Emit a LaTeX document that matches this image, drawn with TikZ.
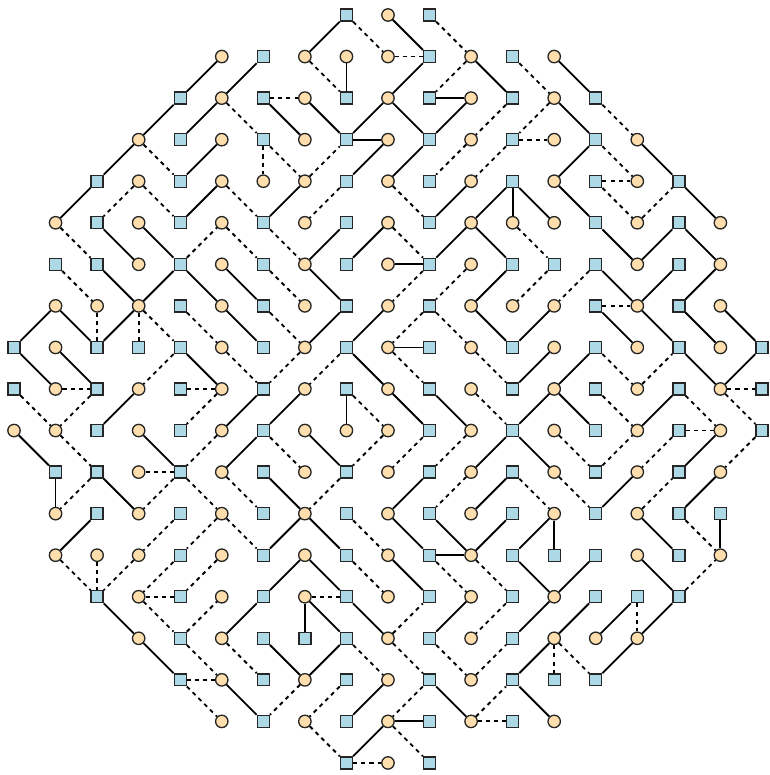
\documentclass[tikz,border=0pt]{standalone}
\definecolor{sqblue}{HTML}{ADD8E6}
\definecolor{cirtan}{HTML}{FFDEAD}

\begin{document}
\begin{tikzpicture}[x=1cm, y=-1cm,
  sqn/.style={rectangle, draw=black!85, line width=0.9pt, fill=sqblue, minimum size=8.2pt, inner sep=0pt},
  cin/.style={circle, draw=black!85, line width=0.9pt, fill=cirtan, minimum size=8.5pt, inner sep=0pt},
  lk/.style={line width=1.25pt},
  dlk/.style={line width=1.25pt, dash pattern=on 2.8pt off 2.8pt}]
  \useasboundingbox (-0.337,-0.361) rectangle (18.17,18.29);
  \foreach \r/\c in {0/8,0/10, 1/6,1/10,1/12, 2/4,2/6,2/8,2/10,2/12,2/14,
    3/4,3/6,3/8,3/10,3/12,3/14, 4/2,4/4,4/8,4/10,4/12,4/14,4/16,
    5/2,5/4,5/6,5/8,5/10,5/14,5/16, 6/1,6/2,6/4,6/6,6/8,6/10,6/12,6/13,6/14,6/16,
    7/4,7/6,7/8,7/10,7/14,7/16, 8/0,8/2,8/3,8/4,8/6,8/8,8/10,8/12,8/14,8/16,8/18,
    9/0,9/2,9/4,9/6,9/8,9/10,9/12,9/14,9/16,9/18, 10/2,10/4,10/6,10/10,10/12,10/14,10/16,10/18,
    11/1,11/2,11/4,11/6,11/8,11/10,11/12,11/14,11/16, 12/2,12/4,12/6,12/8,12/10,12/12,12/14,12/16,12/17,
    13/4,13/6,13/8,13/10,13/12,13/13,13/14,13/16, 14/2,14/4,14/6,14/8,14/10,14/12,14/14,14/15,14/16,
    15/4,15/6,15/7,15/8,15/10,15/12, 16/4,16/6,16/8,16/10,16/12,16/13,16/14,
    17/6,17/8,17/10,17/12, 18/8,18/10}{
    \node[sqn] (n\r-\c) at (\c,\r) {};
  }
  \foreach \r/\c in {0/9, 1/5,1/7,1/8,1/9,1/11,1/13, 2/5,2/7,2/9,2/11,2/13,
    3/3,3/5,3/7,3/9,3/11,3/13,3/15, 4/3,4/5,4/6,4/7,4/9,4/11,4/13,4/15,
    5/1,5/3,5/5,5/7,5/9,5/11,5/12,5/13,5/15,5/17, 6/3,6/5,6/7,6/9,6/11,6/15,6/17,
    7/1,7/2,7/3,7/5,7/7,7/9,7/11,7/12,7/13,7/15,7/17, 8/1,8/5,8/7,8/9,8/11,8/13,8/15,8/17,
    9/1,9/3,9/5,9/7,9/9,9/11,9/13,9/15,9/17, 10/0,10/1,10/3,10/5,10/7,10/8,10/9,10/11,10/13,10/15,10/17,
    11/3,11/5,11/7,11/9,11/11,11/13,11/15,11/17, 12/1,12/3,12/5,12/7,12/9,12/11,12/13,12/15,
    13/1,13/2,13/3,13/5,13/7,13/9,13/11,13/15,13/17, 14/3,14/5,14/7,14/9,14/11,14/13,
    15/3,15/5,15/9,15/11,15/13,15/14,15/15, 16/5,16/7,16/9,16/11, 17/5,17/7,17/9,17/11,17/13, 18/9}{
    \node[cin] (n\r-\c) at (\c,\r) {};
  }
  \foreach \a/\b in {0-8/1-7,0-9/1-10,1-5/2-4,2-4/3-3,3-3/4-2,4-2/5-1,1-6/2-5,2-5/3-4,2-6/3-7,
    1-8/2-8,1-10/2-9,1-11/2-12,1-13/2-14,2-7/3-8,2-9/3-8,2-9/3-10,2-10/2-11,2-11/3-10,
    2-13/3-14,3-8/3-9,3-9/4-8,3-10/4-9,3-14/4-13,3-15/4-16,4-4/3-5,5-4/4-5,5-6/4-7,
    4-11/5-10,4-12/5-11,4-12/5-12,4-12/5-13,4-13/5-14,4-16/5-17,5-2/6-3,5-3/6-4,5-8/6-7,
    5-9/6-8,6-10/5-11,5-11/6-12,6-9/6-10,5-14/6-15,6-15/5-16,5-16/6-17,6-2/7-3,6-4/7-3,
    6-4/7-5,6-5/7-6,6-7/7-8,6-12/7-11,6-14/7-15,7-15/6-16,6-17/7-16,7-1/8-0,7-1/8-2,
    7-3/8-2,7-5/8-6,7-8/8-7,7-9/8-8,7-11/8-12,7-13/8-12,7-14/8-15,7-15/8-16,7-16/8-17,
    7-17/8-18,8-0/9-1,8-1/9-2,8-4/9-5,8-8/9-9,8-9/8-10,8-13/9-12,8-14/9-13,8-16/9-17,
    9-17/8-18,9-3/10-2,10-5/9-6,9-7/10-6,9-8/10-8,9-9/10-10,9-10/10-11,9-13/10-12,
    9-13/10-14,10-15/9-16,10-0/11-1,10-3/11-4,11-5/10-6,10-7/11-8,10-12/11-11,10-12/11-13,
    10-17/11-16,11-1/12-1,11-2/12-3,11-6/12-7,11-10/12-9,11-12/12-11,12-14/11-15,11-17/12-16,
    12-2/13-1,12-7/13-6,12-7/13-8,12-9/13-10,12-10/13-11,12-12/13-11,13-10/13-11,
    12-13/13-12,12-13/13-13,12-15/13-16,12-17/13-17,13-7/14-6,13-7/14-8,13-9/14-10,
    13-12/14-13,14-13/13-14,13-15/14-16,14-2/15-3,14-6/15-5,14-7/15-7,14-7/15-8,14-8/15-9,
    14-11/15-10,14-13/15-12,14-14/15-13,14-15/15-14,15-15/14-16,15-3/16-4,15-6/16-7,
    15-8/16-7,15-13/16-12,16-14/15-15,16-5/17-6,16-9/17-8,16-10/17-11,16-12/17-13,
    17-9/17-10,17-9/18-8}{
    \draw[lk] (n\a) -- (n\b);
  }
  \foreach \a/\b in {0-8/1-9,1-9/1-10,0-10/1-11,2-5/3-6,2-6/2-7,1-7/2-8,1-11/2-10,1-12/2-13,
    2-12/3-11,2-13/3-12,2-14/3-15,3-6/4-6,3-6/4-7,4-7/3-8,3-11/4-10,3-12/3-13,3-12/4-11,
    3-14/4-15,3-3/4-4,4-3/5-2,4-3/5-4,4-5/5-6,4-8/5-7,4-9/5-10,4-14/4-15,4-14/5-15,
    5-15/4-16,5-1/6-2,6-4/5-5,5-5/6-6,5-6/6-7,5-9/6-10,5-12/6-13,6-1/7-2,6-6/7-7,6-10/7-9,
    6-11/7-10,6-13/7-12,6-14/7-13,7-2/8-2,7-3/8-3,7-3/8-4,7-4/8-5,7-6/8-7,7-10/8-9,
    7-10/8-11,7-14/7-15,8-4/9-3,8-5/9-6,8-7/9-6,8-8/9-7,8-9/9-10,8-11/9-12,8-14/9-15,
    9-15/8-16,9-1/9-2,9-17/9-18,9-17/10-18,9-0/10-1,9-2/10-1,9-4/9-5,9-5/10-4,9-8/10-9,
    9-11/10-12,9-14/10-15,9-16/10-17,10-16/10-17,10-1/11-2,10-5/11-4,10-6/11-7,10-9/11-8,
    10-10/11-9,10-11/11-10,10-13/11-14,11-14/10-15,10-16/11-15,10-18/11-17,11-3/11-4,
    11-2/12-1,11-4/12-3,11-4/12-5,11-5/12-6,11-8/12-7,11-11/12-10,11-12/12-13,11-13/12-14,
    12-15/11-16,12-4/13-3,12-5/13-4,12-5/13-6,12-8/13-9,12-16/13-17,13-1/14-2,13-2/14-2,
    13-3/14-2,13-4/14-3,14-3/14-4,13-5/14-4,13-8/14-9,13-10/14-11,13-11/14-12,14-16/13-17,
    14-3/15-4,15-4/14-5,14-7/14-8,15-9/14-10,14-12/15-11,14-15/15-15,15-4/16-5,15-5/16-6,
    15-8/16-9,15-9/16-10,15-10/16-11,16-11/15-12,15-13/16-13,15-13/16-14,16-4/16-5,
    16-4/17-5,16-7/17-6,16-8/17-7,16-10/17-9,17-11/16-12,17-11/17-12,17-7/18-8,18-8/18-9,
    17-9/18-10}{
    \draw[dlk] (n\a) -- (n\b);
  }
\end{tikzpicture}
\end{document}
